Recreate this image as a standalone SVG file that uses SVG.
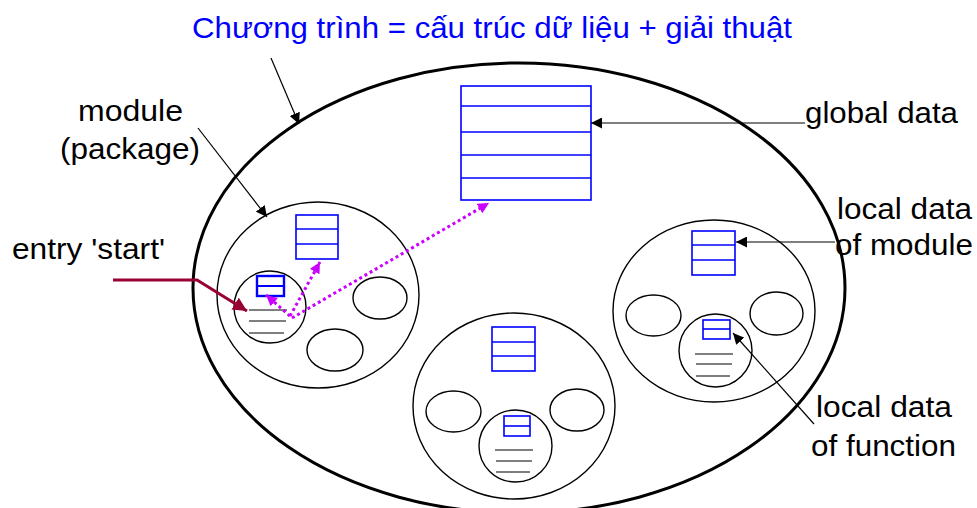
<svg xmlns="http://www.w3.org/2000/svg" width="977" height="508" viewBox="0 0 977 508">
  <style>
    .lbl { font-family: "Liberation Sans", Arial, sans-serif; font-size: 29px; fill: #000; }
    .title { font-family: "Liberation Sans", Arial, sans-serif; font-size: 30px; fill: #0000ff; }
    .mod { fill: none; stroke: #000; stroke-width: 1.4; }
    .fn { fill: none; stroke: #000; stroke-width: 1.4; }
    .box { fill: none; stroke: #0000ff; stroke-width: 1.6; }
    .boxline { stroke: #0000ff; stroke-width: 1.6; }
    .code { stroke: #000; stroke-width: 1.2; }
    .ptr { fill: none; stroke: #000; stroke-width: 1.2; }
    .dot { fill: none; stroke: #cc00ff; stroke-width: 3; stroke-dasharray: 3 3; }
  </style>
  <defs>
    <marker id="ah" viewBox="0 0 10 10" refX="10" refY="5" markerWidth="11" markerHeight="11" markerUnits="userSpaceOnUse" orient="auto">
      <path d="M0,0 L10,5 L0,10 z" fill="#000"/>
    </marker>
    <marker id="ahm" viewBox="0 0 10 10" refX="10" refY="5" markerWidth="11" markerHeight="11" markerUnits="userSpaceOnUse" orient="auto">
      <path d="M0,0 L10,5 L0,10 z" fill="#cc00ff"/>
    </marker>
    <marker id="ahr" viewBox="0 0 10 10" refX="10" refY="5" markerWidth="14" markerHeight="14" markerUnits="userSpaceOnUse" orient="auto">
      <path d="M0,0 L10,5 L0,10 z" fill="#990033"/>
    </marker>
  </defs>

  <!-- title -->
  <text class="title" x="192" y="38" textLength="600" lengthAdjust="spacingAndGlyphs">Chương trình = cấu trúc dữ liệu + giải thuật</text>

  <!-- whole program -->
  <g id="program">
    <ellipse cx="519" cy="288" rx="326" ry="225" fill="none" stroke="#000" stroke-width="3"/>
  </g>

  <!-- global data -->
  <g id="global-data">
    <rect class="box" x="461" y="86" width="130" height="114"/>
    <line class="boxline" x1="461" y1="106" x2="591" y2="106"/>
    <line class="boxline" x1="461" y1="132" x2="591" y2="132"/>
    <line class="boxline" x1="461" y1="155" x2="591" y2="155"/>
    <line class="boxline" x1="461" y1="178" x2="591" y2="178"/>
  </g>

  <!-- module on the left (holds the entry function) -->
  <g id="module-left">
    <ellipse class="mod" cx="318" cy="295" rx="101" ry="93"/>
    <rect class="box" x="296" y="215" width="42" height="44"/>
    <line class="boxline" x1="296" y1="229" x2="338" y2="229"/>
    <line class="boxline" x1="296" y1="244" x2="338" y2="244"/>
    <ellipse class="fn" cx="380" cy="298" rx="27" ry="21"/>
    <ellipse class="fn" cx="335" cy="350" rx="28" ry="21"/>
    <g id="function-start">
      <ellipse class="fn" cx="270" cy="307" rx="36" ry="36"/>
      <rect x="257" y="276" width="27" height="20" fill="none" stroke="#0000ff" stroke-width="2.4"/>
      <line x1="257" y1="286" x2="284" y2="286" stroke="#0000ff" stroke-width="2"/>
      <line class="code" x1="249" y1="310" x2="287" y2="310"/>
      <line class="code" x1="249" y1="321" x2="286" y2="321"/>
      <line class="code" x1="249" y1="333" x2="284" y2="333"/>
    </g>
  </g>

  <!-- module at the bottom -->
  <g id="module-bottom">
    <ellipse class="mod" cx="514" cy="406" rx="101" ry="93"/>
    <rect class="box" x="492" y="327" width="43" height="44"/>
    <line class="boxline" x1="492" y1="342" x2="535" y2="342"/>
    <line class="boxline" x1="492" y1="356" x2="535" y2="356"/>
    <ellipse class="fn" cx="453.5" cy="411.5" rx="27.5" ry="20.5"/>
    <ellipse class="fn" cx="577" cy="410" rx="27" ry="21"/>
    <g id="function-bottom">
      <ellipse class="fn" cx="515.5" cy="446" rx="36.5" ry="36"/>
      <rect class="box" x="504" y="416" width="26" height="20"/>
      <line class="boxline" x1="504" y1="426" x2="530" y2="426"/>
      <line class="code" x1="495" y1="450" x2="533" y2="450"/>
      <line class="code" x1="496" y1="461" x2="532" y2="461"/>
      <line class="code" x1="496" y1="472" x2="530" y2="472"/>
    </g>
  </g>

  <!-- module on the right -->
  <g id="module-right">
    <ellipse class="mod" cx="714" cy="311" rx="101" ry="91"/>
    <rect class="box" x="692" y="231" width="43" height="44"/>
    <line class="boxline" x1="692" y1="245" x2="735" y2="245"/>
    <line class="boxline" x1="692" y1="260" x2="735" y2="260"/>
    <ellipse class="fn" cx="653.5" cy="315.5" rx="27.5" ry="20.5"/>
    <ellipse class="fn" cx="776.5" cy="313.5" rx="26.5" ry="21.5"/>
    <g id="function-right">
      <ellipse class="fn" cx="715.5" cy="350.5" rx="36.5" ry="36.5"/>
      <rect class="box" x="703" y="320" width="27" height="19"/>
      <line class="boxline" x1="703" y1="329" x2="730" y2="329"/>
      <line class="code" x1="695" y1="354" x2="733" y2="354"/>
      <line class="code" x1="696" y1="364" x2="732" y2="364"/>
      <line class="code" x1="696" y1="376" x2="730" y2="376"/>
    </g>
  </g>

  <!-- labels -->
  <g id="labels">
    <text class="lbl" x="805" y="123" textLength="153" lengthAdjust="spacingAndGlyphs">global data</text>
    <text class="lbl" x="837" y="219" textLength="135" lengthAdjust="spacingAndGlyphs">local data</text>
    <text class="lbl" x="835" y="255" textLength="138" lengthAdjust="spacingAndGlyphs">of module</text>
    <text class="lbl" x="816" y="417" textLength="136" lengthAdjust="spacingAndGlyphs">local data</text>
    <text class="lbl" x="811" y="456" textLength="145" lengthAdjust="spacingAndGlyphs">of function</text>
    <text class="lbl" x="78" y="121" textLength="105" lengthAdjust="spacingAndGlyphs">module</text>
    <text class="lbl" x="60" y="159" textLength="140" lengthAdjust="spacingAndGlyphs">(package)</text>
    <text class="lbl" x="12" y="259" textLength="153" lengthAdjust="spacingAndGlyphs">entry 'start'</text>
  </g>

  <!-- connectors -->
  <g id="connectors">
    <line class="ptr" x1="271" y1="58" x2="299" y2="124" marker-end="url(#ah)"/>
    <line class="ptr" x1="198" y1="128" x2="267" y2="217" marker-end="url(#ah)"/>
    <line class="ptr" x1="805" y1="123" x2="591" y2="123" marker-end="url(#ah)"/>
    <line class="ptr" x1="835" y1="242" x2="736" y2="242" marker-end="url(#ah)"/>
    <line class="ptr" x1="814" y1="424" x2="733" y2="333" marker-end="url(#ah)"/>
    <polyline points="113,280 197,280 247,311" fill="none" stroke="#990033" stroke-width="3" marker-end="url(#ahr)"/>
    <line class="dot" x1="290" y1="316" x2="320" y2="262" marker-end="url(#ahm)"/>
    <line class="dot" x1="290" y1="316" x2="266" y2="295" marker-end="url(#ahm)"/>
    <line class="dot" x1="292" y1="318" x2="489" y2="203" marker-end="url(#ahm)"/>
  </g>
</svg>
